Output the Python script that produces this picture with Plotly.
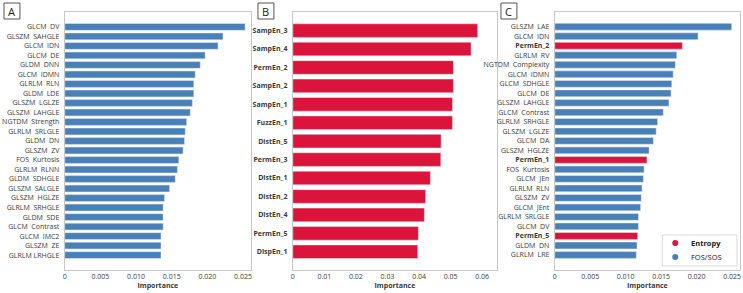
import plotly.graph_objects as go

# ---------------- data ----------------
a_labels = ["GLCM  DV", "GLSZM  SAHGLE", "GLCM  IDN", "GLCM  DE", "GLDM  DNN", "GLCM  IDMN",
            "GLRLM  RLN", "GLDM  LDE", "GLSZM  LGLZE", "GLSZM  LAHGLE", "NGTDM  Strength",
            "GLRLM  SRLGLE", "GLDM  DN", "GLSZM  ZV", "FOS  Kurtosis", "GLRLM  RLNN",
            "GLDM  SDHGLE", "GLSZM  SALGLE", "GLSZM  HGLZE", "GLRLM  SRHGLE", "GLDM  SDE",
            "GLCM  Contrast", "GLCM  IMC2", "GLSZM  ZE", "GLRLM LRHGLE"]
a_values = [0.0253, 0.0222, 0.0215, 0.0197, 0.0190, 0.0183, 0.0181, 0.0181, 0.0179, 0.0176,
            0.0171, 0.0169, 0.0168, 0.0166, 0.0160, 0.0158, 0.0155, 0.0147, 0.0140, 0.0138,
            0.0138, 0.0138, 0.0135, 0.0135, 0.0135]

b_labels = ["SampEn_3", "SampEn_4", "PermEn_2", "SampEn_2", "SampEn_1", "FuzzEn_1", "DistEn_5",
            "PermEn_3", "DistEn_1", "DistEn_2", "DistEn_4", "PermEn_5", "DispEn_1"]
b_values = [0.0586, 0.0565, 0.0509, 0.0509, 0.0506, 0.0506, 0.0470, 0.0469, 0.0436, 0.0421,
            0.0417, 0.0398, 0.0396]

c_labels = ["GLSZM  LAE", "GLCM  IDN", "PermEn_2", "GLRLM  RV", "NGTDM  Complexity", "GLCM  IDMN",
            "GLCM  SDHGLE", "GLCM  DE", "GLSZM  LAHGLE", "GLCM  Contrast", "GLRLM  SRHGLE",
            "GLSZM  LGLZE", "GLCM  DA", "GLSZM  HGLZE", "PermEn_1", "FOS  Kurtosis", "GLCM  JEn",
            "GLRLM  RLN", "GLSZM  ZV", "GLCM  JEnt", "GLRLM  SRLGLE", "GLCM  DV", "PermEn_5",
            "GLDM  DN", "GLRLM  LRE"]
c_values = [0.02495, 0.0202, 0.0180, 0.0172, 0.0170, 0.0167, 0.0165, 0.0164, 0.0161, 0.0153,
            0.0145, 0.0143, 0.0139, 0.0133, 0.0130, 0.0126, 0.0125, 0.0123, 0.0122, 0.0121,
            0.0118, 0.0118, 0.0117, 0.0116, 0.0115]
c_groups = ["FOS/SOS", "FOS/SOS", "Entropy", "FOS/SOS", "FOS/SOS", "FOS/SOS", "FOS/SOS",
            "FOS/SOS", "FOS/SOS", "FOS/SOS", "FOS/SOS", "FOS/SOS", "FOS/SOS", "FOS/SOS",
            "Entropy", "FOS/SOS", "FOS/SOS", "FOS/SOS", "FOS/SOS", "FOS/SOS", "FOS/SOS",
            "FOS/SOS", "Entropy", "FOS/SOS", "FOS/SOS"]

a_ticks = [0, 0.005, 0.010, 0.015, 0.020, 0.025]
a_ticktext = ["0", "0.005", "0.010", "0.015", "0.020", "0.025"]
b_ticks = [0, 0.01, 0.02, 0.03, 0.04, 0.05, 0.06]
b_ticktext = ["0", "0.01", "0.02", "0.03", "0.04", "0.05", "0.06"]
legend_names = ["Entropy", "FOS/SOS"]

BLUE = "#4a80b8"
RED = "#dc143c"
color_map = {"Entropy": RED, "FOS/SOS": BLUE}

W, H = 743, 293
FONT = "Open Sans"
TXT = "#3a3a3a"

def px_x(p):
    return p / W

def px_y(p):
    return 1 - p / H

fig = go.Figure()

fig.add_trace(go.Bar(x=a_values, y=a_labels, orientation="h", marker_color=BLUE,
                     width=0.72, xaxis="x", yaxis="y", showlegend=False))
fig.add_trace(go.Bar(x=b_values, y=b_labels, orientation="h", marker_color=RED,
                     width=0.74, xaxis="x2", yaxis="y2", showlegend=False))
fig.add_trace(go.Bar(x=c_values, y=c_labels, orientation="h",
                     marker_color=[color_map[g] for g in c_groups],
                     width=0.72, xaxis="x3", yaxis="y3", showlegend=False))

tick_font = dict(family=FONT, size=7, color=TXT)
ylab_font = dict(family=FONT, size=7, color=TXT)
frame = "#c8c8c8"

def xaxis(domain, rng, tickvals, ticktext):
    return dict(domain=domain, range=rng, tickvals=tickvals, ticktext=ticktext,
                showgrid=False, zeroline=False, showline=True, linecolor=frame,
                linewidth=1, mirror=True, ticks="", tickfont=tick_font,
                title=dict(text="<b>Importance</b>", font=dict(family=FONT, size=7, color=TXT),
                           standoff=2))

def yaxis(domain, anchor, labels, rng, bold=None):
    if bold is None:
        tt = labels
    else:
        tt = ["<b>%s</b>" % l if b else l for l, b in zip(labels, bold)]
    return dict(domain=domain, anchor=anchor, type="category", categoryorder="array",
                categoryarray=labels, tickvals=labels, ticktext=tt, range=rng,
                showgrid=False, zeroline=False, showline=True, linecolor=frame,
                linewidth=1, mirror=True, ticks="", tickfont=ylab_font,
                ticklabelstandoff=3)

ydom = [px_y(270), px_y(12)]
n_a = len(a_labels)
n_b = len(b_labels)
n_c = len(c_labels)

fig.update_layout(
    width=W, height=H, margin=dict(l=0, r=0, t=0, b=0),
    paper_bgcolor="white", plot_bgcolor="white", showlegend=False,
    xaxis=dict(**xaxis([px_x(63), px_x(250)], [0, 0.02612], a_ticks, a_ticktext), anchor="y"),
    yaxis=yaxis(ydom, "x", a_labels, [n_a - 1 + 1.57, -1.57]),
    xaxis2=dict(**xaxis([px_x(292), px_x(497)], [0, 0.0647], b_ticks, b_ticktext), anchor="y2"),
    yaxis2=yaxis(ydom, "x2", b_labels, [n_b - 1 + 0.99, -1.01], bold=[True] * n_b),
    xaxis3=dict(**xaxis([px_x(555), px_x(741)], [0, 0.02612], a_ticks, a_ticktext), anchor="y3"),
    yaxis3=yaxis(ydom, "x3", c_labels, [n_c - 1 + 1.58, -1.55],
                 bold=[l.startswith("PermEn") for l in c_labels]),
    font=dict(family=FONT, color=TXT),
)

# legend (compact, drawn in paper space)
fig.add_shape(type="rect", xref="paper", yref="paper",
              x0=px_x(663), x1=px_x(738), y0=px_y(266), y1=px_y(235),
              line=dict(color="#d9d9d9", width=1), fillcolor="white")
for i, name in enumerate(legend_names):
    cy = 243 + 14 * i
    fig.add_shape(type="circle", xref="paper", yref="paper",
                  x0=px_x(673), x1=px_x(679), y0=px_y(cy + 3), y1=px_y(cy - 3),
                  line=dict(width=0), fillcolor=color_map[name])
    label = "<b>%s</b>" % name if name == "Entropy" else name
    fig.add_annotation(text=label, xref="paper", yref="paper",
                       x=px_x(690), y=px_y(cy), xanchor="left", yanchor="middle",
                       showarrow=False, font=dict(family=FONT, size=7.5, color="#222"))

# panel letters in boxes
for letter, x0 in [("A", 2), ("B", 257), ("C", 501)]:
    fig.add_shape(type="rect", xref="paper", yref="paper",
                  x0=px_x(x0), x1=px_x(x0 + 16), y0=px_y(19), y1=px_y(3),
                  line=dict(color="#555", width=1), fillcolor="white")
    fig.add_annotation(text=letter, xref="paper", yref="paper",
                       x=px_x(x0 + 8), y=px_y(11), xanchor="center", yanchor="middle",
                       showarrow=False, font=dict(family=FONT, size=11, color="#222"))

fig.write_html("out.html")
